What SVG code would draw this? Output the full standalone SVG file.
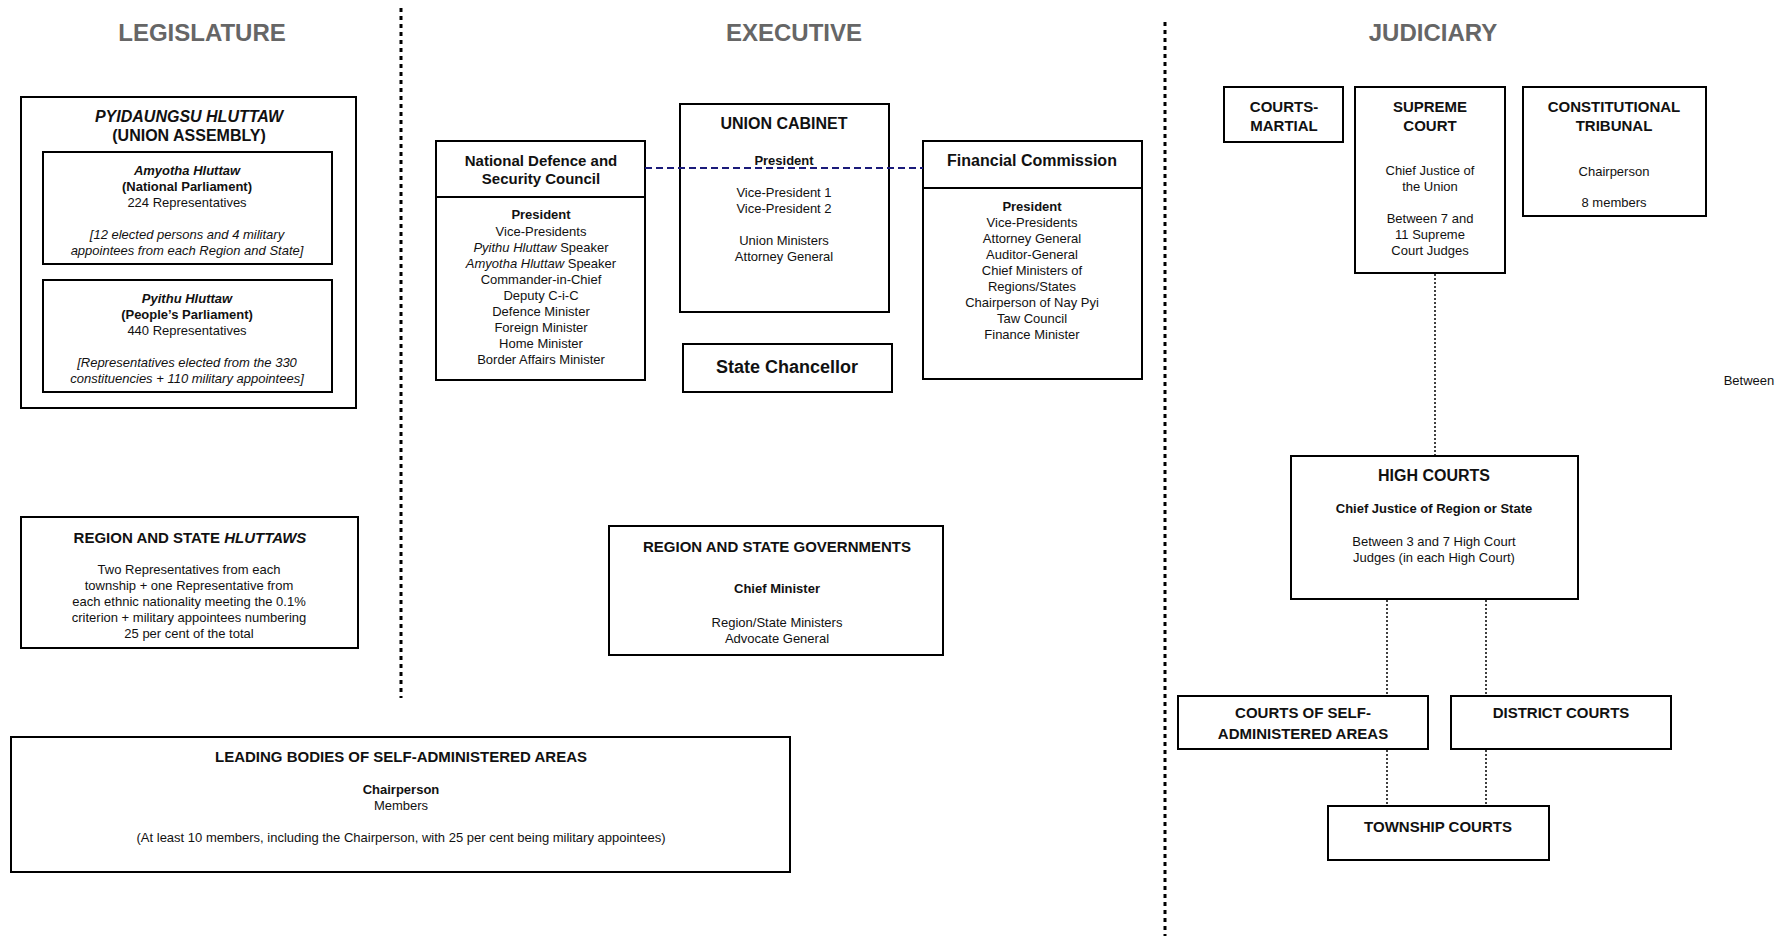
<svg xmlns="http://www.w3.org/2000/svg" width="1791" height="936" viewBox="0 0 1791 936">
<style>
text{font-family:"Liberation Sans",Arial,sans-serif;fill:#111;text-anchor:middle}
.box{fill:#fff;stroke:#000;stroke-width:2}
.hdr{font-size:24px;font-weight:bold;fill:#666}
.t15{font-size:15px;font-weight:bold}
.t16{font-size:16px;font-weight:bold}
.b{font-size:13px}
.bb{font-size:13px;font-weight:bold}
.i{font-style:italic}
.sep{stroke:#000;stroke-width:3;stroke-dasharray:4 4;fill:none}
.dot{stroke:#000;stroke-width:1.5;stroke-dasharray:2 2;fill:none}
.dash{stroke:#1a1a7a;stroke-width:2;stroke-dasharray:7 4;fill:none}
</style>
<rect width="1791" height="936" fill="#fff"/>
<g id="separators">
<line class="sep" x1="401" y1="8" x2="401" y2="698"/>
<line class="sep" x1="1165" y1="22" x2="1165" y2="936"/>
</g>
<g id="headings">
<text class="hdr" x="202" y="41">LEGISLATURE</text>
<text class="hdr" x="794" y="41">EXECUTIVE</text>
<text class="hdr" x="1433" y="41">JUDICIARY</text>
</g>
<g id="pyidaungsu">
<rect class="box" x="21" y="97" width="335" height="311"/>
<text class="t16 i" x="189" y="122">PYIDAUNGSU HLUTTAW</text>
<text class="t16" x="189" y="141">(UNION ASSEMBLY)</text>
</g>
<g id="amyotha">
<rect class="box" x="43" y="152" width="289" height="112"/>
<text class="bb i" x="187" y="175">Amyotha Hluttaw</text>
<text class="bb" x="187" y="191">(National Parliament)</text>
<text class="b" x="187" y="207">224 Representatives</text>
<text class="b i" x="187" y="239">[12 elected persons and 4 military</text>
<text class="b i" x="187" y="255">appointees from each Region and State]</text>
</g>
<g id="pyithu">
<rect class="box" x="43" y="280" width="289" height="112"/>
<text class="bb i" x="187" y="303">Pyithu Hluttaw</text>
<text class="bb" x="187" y="319">(People’s Parliament)</text>
<text class="b" x="187" y="335">440 Representatives</text>
<text class="b i" x="187" y="367">[Representatives elected from the 330</text>
<text class="b i" x="187" y="383">constituencies + 110 military appointees]</text>
</g>
<g id="region-hluttaws">
<rect class="box" x="21" y="517" width="337" height="131"/>
<text class="t15" x="190" y="543">REGION AND STATE <tspan font-style="italic">HLUTTAWS</tspan></text>
<text class="b" x="189" y="574">Two Representatives from each</text>
<text class="b" x="189" y="590">township + one Representative from</text>
<text class="b" x="189" y="606">each ethnic nationality meeting the 0.1%</text>
<text class="b" x="189" y="622">criterion + military appointees numbering</text>
<text class="b" x="189" y="638">25 per cent of the total</text>
</g>
<g id="ndsc">
<rect class="box" x="436" y="141" width="209" height="239"/>
<line x1="436" y1="197" x2="645" y2="197" stroke="#000" stroke-width="2"/>
<text class="t15" x="541" y="166">National Defence and</text>
<text class="t15" x="541" y="184">Security Council</text>
<text class="bb" x="541" y="219">President</text>
<text class="b" x="541" y="236">Vice-Presidents</text>
<text class="b" x="541" y="252"><tspan font-style="italic">Pyithu Hluttaw</tspan> Speaker</text>
<text class="b" x="541" y="268"><tspan font-style="italic">Amyotha Hluttaw</tspan> Speaker</text>
<text class="b" x="541" y="284">Commander-in-Chief</text>
<text class="b" x="541" y="300">Deputy C-i-C</text>
<text class="b" x="541" y="316">Defence Minister</text>
<text class="b" x="541" y="332">Foreign Minister</text>
<text class="b" x="541" y="348">Home Minister</text>
<text class="b" x="541" y="364">Border Affairs Minister</text>
</g>
<g id="union-cabinet">
<rect class="box" x="680" y="104" width="209" height="208"/>
<text class="t16" x="784" y="129">UNION CABINET</text>
<text class="bb" x="784" y="165">President</text>
<text class="b" x="784" y="197">Vice-President 1</text>
<text class="b" x="784" y="213">Vice-President 2</text>
<text class="b" x="784" y="245">Union Ministers</text>
<text class="b" x="784" y="261">Attorney General</text>
</g>
<g id="state-chancellor">
<rect class="box" x="683" y="344" width="209" height="48"/>
<text x="787" y="373" font-size="18" font-weight="bold">State Chancellor</text>
</g>
<g id="financial-commission">
<rect class="box" x="923" y="141" width="219" height="238"/>
<line x1="923" y1="188" x2="1142" y2="188" stroke="#000" stroke-width="2"/>
<text class="t16" x="1032" y="166">Financial Commission</text>
<text class="bb" x="1032" y="211">President</text>
<text class="b" x="1032" y="227">Vice-Presidents</text>
<text class="b" x="1032" y="243">Attorney General</text>
<text class="b" x="1032" y="259">Auditor-General</text>
<text class="b" x="1032" y="275">Chief Ministers of</text>
<text class="b" x="1032" y="291">Regions/States</text>
<text class="b" x="1032" y="307">Chairperson of Nay Pyi</text>
<text class="b" x="1032" y="323">Taw Council</text>
<text class="b" x="1032" y="339">Finance Minister</text>
</g>
<g id="region-governments">
<rect class="box" x="609" y="526" width="334" height="129"/>
<text class="t15" x="777" y="552">REGION AND STATE GOVERNMENTS</text>
<text class="bb" x="777" y="593">Chief Minister</text>
<text class="b" x="777" y="627">Region/State Ministers</text>
<text class="b" x="777" y="643">Advocate General</text>
</g>
<g id="leading-bodies">
<rect class="box" x="11" y="737" width="779" height="135"/>
<text class="t15" x="401" y="762">LEADING BODIES OF SELF-ADMINISTERED AREAS</text>
<text class="bb" x="401" y="794">Chairperson</text>
<text class="b" x="401" y="810">Members</text>
<text class="b" x="401" y="842">(At least 10 members, including the Chairperson, with 25 per cent being military appointees)</text>
</g>
<g id="courts-martial">
<rect class="box" x="1224" y="87" width="119" height="55"/>
<text class="t15" x="1284" y="112">COURTS-</text>
<text class="t15" x="1284" y="131">MARTIAL</text>
</g>
<g id="supreme-court">
<rect class="box" x="1355" y="87" width="150" height="186"/>
<text class="t15" x="1430" y="112">SUPREME</text>
<text class="t15" x="1430" y="131">COURT</text>
<text class="b" x="1430" y="175">Chief Justice of</text>
<text class="b" x="1430" y="191">the Union</text>
<text class="b" x="1430" y="223">Between 7 and</text>
<text class="b" x="1430" y="239">11 Supreme</text>
<text class="b" x="1430" y="255">Court Judges</text>
</g>
<g id="constitutional-tribunal">
<rect class="box" x="1523" y="87" width="183" height="129"/>
<text class="t15" x="1614" y="112">CONSTITUTIONAL</text>
<text class="t15" x="1614" y="131">TRIBUNAL</text>
<text class="b" x="1614" y="176">Chairperson</text>
<text class="b" x="1614" y="207">8 members</text>
</g>
<g id="stray-text">
<text class="b" x="1749" y="385">Between</text>
</g>
<g id="high-courts">
<rect class="box" x="1291" y="456" width="287" height="143"/>
<text class="t16" x="1434" y="481">HIGH COURTS</text>
<text class="bb" x="1434" y="513">Chief Justice of Region or State</text>
<text class="b" x="1434" y="546">Between 3 and 7 High Court</text>
<text class="b" x="1434" y="562">Judges (in each High Court)</text>
</g>
<g id="courts-self-administered">
<rect class="box" x="1178" y="696" width="250" height="53"/>
<text class="t15" x="1303" y="718">COURTS OF SELF-</text>
<text class="t15" x="1303" y="739">ADMINISTERED AREAS</text>
</g>
<g id="district-courts">
<rect class="box" x="1451" y="696" width="220" height="53"/>
<text class="t15" x="1561" y="718">DISTRICT COURTS</text>
</g>
<g id="township-courts">
<rect class="box" x="1328" y="806" width="221" height="54"/>
<text class="t15" x="1438" y="832">TOWNSHIP COURTS</text>
</g>
<g id="connectors">
<line class="dash" x1="645" y1="168" x2="923" y2="168"/>
<line class="dot" x1="1435" y1="274" x2="1435" y2="455"/>
<line class="dot" x1="1387" y1="600" x2="1387" y2="695"/>
<line class="dot" x1="1486" y1="600" x2="1486" y2="695"/>
<line class="dot" x1="1387" y1="750" x2="1387" y2="805"/>
<line class="dot" x1="1486" y1="750" x2="1486" y2="805"/>
</g>
</svg>
